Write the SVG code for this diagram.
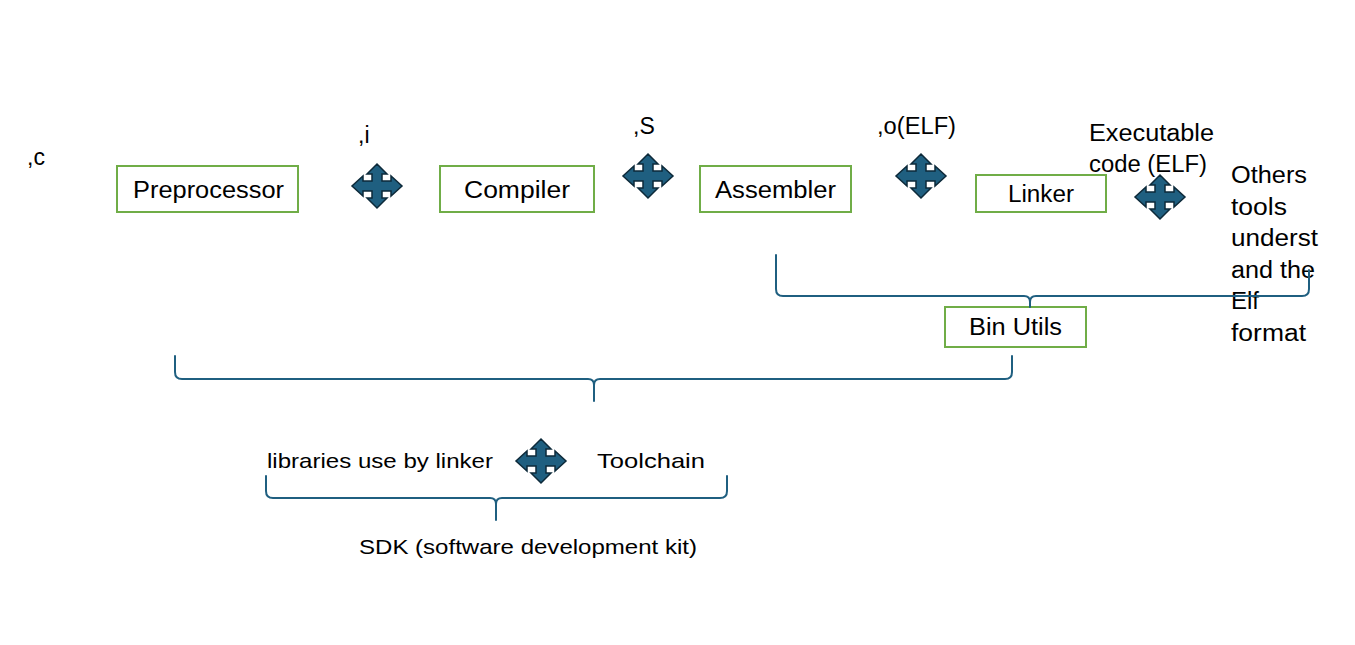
<svg xmlns="http://www.w3.org/2000/svg" width="1355" height="645" viewBox="0 0 1355 645">
<style>
  .box { fill: #ffffff; stroke: #70ad47; stroke-width: 2; }
  .t { font-family: "Liberation Sans", Arial, sans-serif; font-size: 23px; fill: #000000; }
  .s { font-family: "Liberation Sans", Arial, sans-serif; font-size: 21px; fill: #000000; }
  .brace { fill: none; stroke: #1f5f80; stroke-width: 2; stroke-linejoin: round; stroke-linecap: round; }
  .arr { fill: #1f5f80; stroke: #0d2a3a; stroke-width: 1.5; stroke-linejoin: miter; }
</style>
<defs>
  <path id="quad" d="M0,-22 L10,-12 L5,-12 L5,-5 L14,-5 L14,-10 L25,0 L14,10 L14,5 L5,5 L5,12 L10,12 L0,22 L-10,12 L-5,12 L-5,5 L-14,5 L-14,10 L-25,0 L-14,-10 L-14,-5 L-5,-5 L-5,-12 L-10,-12 Z"/>
</defs>
<rect width="1355" height="645" fill="#ffffff"/>

<g id="labels">
  <text class="t" x="27" y="165">,c</text>
  <text class="t" x="358" y="143">,i</text>
  <text class="t" x="633" y="134">,S</text>
  <text class="t" x="877" y="134" textLength="79" lengthAdjust="spacingAndGlyphs">,o(ELF)</text>
  <text class="t" x="1089" y="141" textLength="125" lengthAdjust="spacingAndGlyphs">Executable</text>
  <text class="t" x="1089" y="172" textLength="118" lengthAdjust="spacingAndGlyphs">code (ELF)</text>
  <text class="t" x="1231" y="183" textLength="76" lengthAdjust="spacingAndGlyphs">Others</text>
  <text class="t" x="1231" y="215" textLength="56" lengthAdjust="spacingAndGlyphs">tools</text>
  <text class="t" x="1231" y="246" textLength="87" lengthAdjust="spacingAndGlyphs">underst</text>
  <text class="t" x="1231" y="278" textLength="84" lengthAdjust="spacingAndGlyphs">and the</text>
  <text class="t" x="1231" y="309" textLength="28" lengthAdjust="spacingAndGlyphs">Elf</text>
  <text class="t" x="1231" y="341" textLength="75" lengthAdjust="spacingAndGlyphs">format</text>
  <text class="s" x="267" y="468" textLength="226" lengthAdjust="spacingAndGlyphs">libraries use by linker</text>
  <text class="s" x="597" y="468" textLength="108" lengthAdjust="spacingAndGlyphs">Toolchain</text>
  <text class="s" x="359" y="554" textLength="338" lengthAdjust="spacingAndGlyphs">SDK (software development kit)</text>
</g>

<g id="node-preprocessor">
  <rect class="box" x="117" y="166" width="181" height="46"/>
  <text class="t" x="133" y="198" textLength="151" lengthAdjust="spacingAndGlyphs">Preprocessor</text>
</g>
<g id="node-compiler">
  <rect class="box" x="440" y="166" width="154" height="46"/>
  <text class="t" x="464" y="198" textLength="106" lengthAdjust="spacingAndGlyphs">Compiler</text>
</g>
<g id="node-assembler">
  <rect class="box" x="700" y="166" width="151" height="46"/>
  <text class="t" x="715" y="198" textLength="121" lengthAdjust="spacingAndGlyphs">Assembler</text>
</g>
<g id="node-linker">
  <rect class="box" x="976" y="175" width="130" height="37"/>
  <text class="t" x="1008" y="202" textLength="66" lengthAdjust="spacingAndGlyphs">Linker</text>
</g>
<g id="node-binutils">
  <rect class="box" x="945" y="307" width="141" height="40"/>
  <text class="t" x="969" y="335" textLength="93" lengthAdjust="spacingAndGlyphs">Bin Utils</text>
</g>

<g id="connectors">
  <use href="#quad" class="arr" transform="translate(377,186)"/>
  <use href="#quad" class="arr" transform="translate(648,176)"/>
  <use href="#quad" class="arr" transform="translate(921,176)"/>
  <use href="#quad" class="arr" transform="translate(1160,197)"/>
  <use href="#quad" class="arr" transform="translate(541,461)"/>
  <path class="brace" d="M776,255 L776,289 Q776,296 783,296 L1024,296 Q1030,296 1030,302 L1030,307 M1030,302 Q1030,296 1036,296 L1302,296 Q1309,296 1309,289 L1309,270"/>
  <path class="brace" d="M175,356 L175,372 Q175,379 182,379 L588,379 Q594,379 594,385 L594,401 M594,385 Q594,379 600,379 L1005,379 Q1012,379 1012,372 L1012,356"/>
  <path class="brace" d="M266,476 L266,491 Q266,498 273,498 L490,498 Q496,498 496,504 L496,520 M496,504 Q496,498 502,498 L720,498 Q727,498 727,491 L727,476"/>
</g>
</svg>
